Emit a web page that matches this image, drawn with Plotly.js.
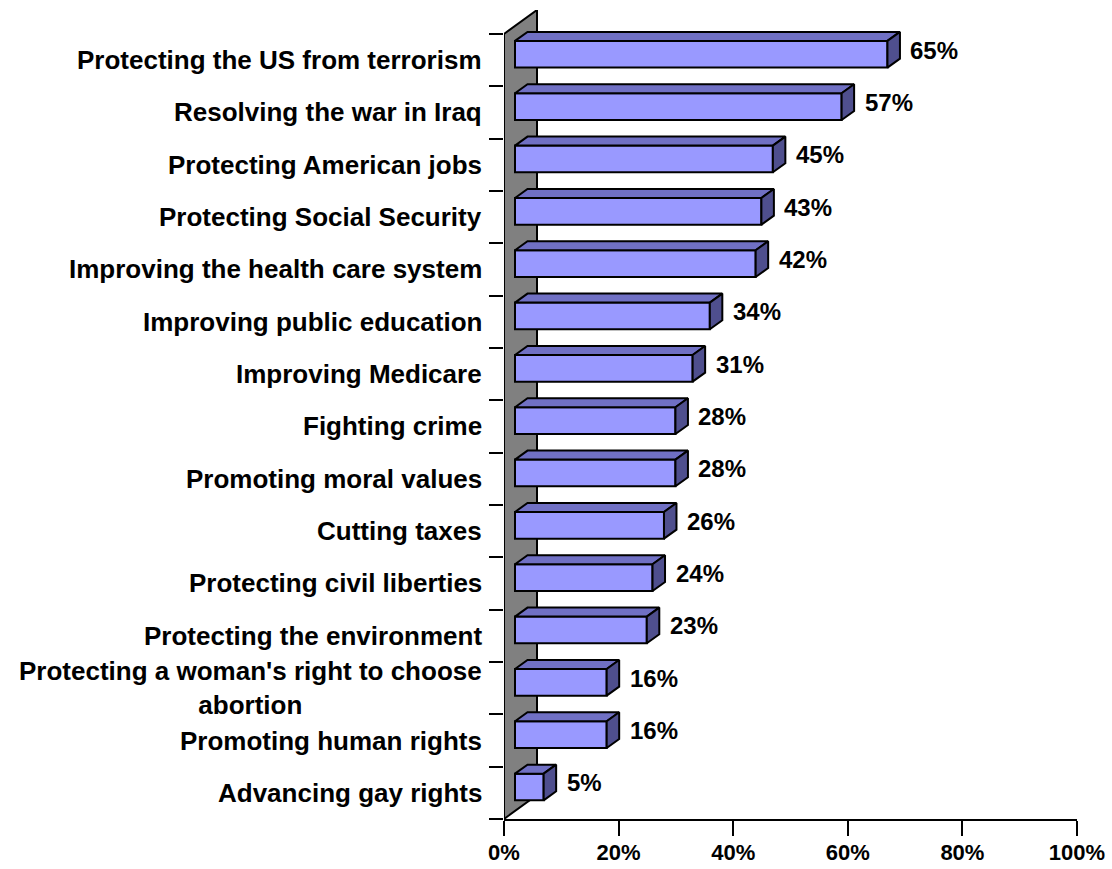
<!DOCTYPE html>
<html><head><meta charset="utf-8">
<script src="https://cdn.plot.ly/plotly-3.0.1.min.js"></script>
<style>body{margin:0;background:#fff}</style>
</head><body>
<div id="chart" style="width:1112px;height:869px"></div>
<script>
const categories = [
  "Protecting the US from terrorism",
  "Resolving the war in Iraq",
  "Protecting American jobs",
  "Protecting Social Security",
  "Improving the health care system",
  "Improving public education",
  "Improving Medicare",
  "Fighting crime",
  "Promoting moral values",
  "Cutting taxes",
  "Protecting civil liberties",
  "Protecting the environment",
  "Protecting a woman's right to choose<br>abortion",
  "Promoting human rights",
  "Advancing gay rights"
];
const values = [65, 57, 45, 43, 42, 34, 31, 28, 28, 26, 24, 23, 16, 16, 5];
const valueLabels = values.map(v => v + "%");
const xTickVals = [0, 20, 40, 60, 80, 100];
const xTickText = ["0%", "20%", "40%", "60%", "80%", "100%"];

// layout geometry
const W = 1112, H = 869;
const M = {l: 504, r: 35, t: 10, b: 50};
const pxX = (W - M.l - M.r) / 100;          // px per percent
const yMin = -0.5, yMax = categories.length - 0.5;
const wallDyUnits = 24 / 52.4;
const yTop = yMin - wallDyUnits;
const pxY = (H - M.t - M.b) / (yMax - yTop); // px per category unit

// 3D depth (converted to data units)
const frontDx = 11 / pxX;
const depthDx = 12.5 / pxX, depthDy = 9 / pxY;
const wallDx = 33 / pxX, wallDy = 24 / pxY;
const faceTop = -0.367, faceBot = 0.143;

const cats = categories.map((c, i) => i);

const front = {
  type: "bar", orientation: "h",
  y: cats.map(i => i + (faceTop + faceBot) / 2),
  x: values, base: values.map(() => frontDx),
  width: faceBot - faceTop,
  marker: {color: "#9999FF", line: {color: "#000", width: 2}},
  hoverinfo: "skip"
};

const topX = [], topY = [], sideX = [], sideY = [];
values.forEach((v, i) => {
  const yt = i + faceTop, yb = i + faceBot;
  const x0 = frontDx, x1 = frontDx + v;
  topX.push(x0, x1, x1 + depthDx, x0 + depthDx, x0, null);
  topY.push(yt, yt, yt - depthDy, yt - depthDy, yt, null);
  sideX.push(x1, x1 + depthDx, x1 + depthDx, x1, x1, null);
  sideY.push(yt, yt - depthDy, yb - depthDy, yb, yt, null);
});
const tops = {type: "scatter", mode: "lines", x: topX, y: topY, fill: "toself",
  fillcolor: "#7070C4", line: {color: "#000", width: 2}, hoverinfo: "skip", connectgaps: false};
const sides = {type: "scatter", mode: "lines", x: sideX, y: sideY, fill: "toself",
  fillcolor: "#4F4F8E", line: {color: "#000", width: 2}, hoverinfo: "skip", connectgaps: false};

const wallPath = `M 0,${yMax} L 0,${yMin} L ${wallDx},${yMin - wallDy} L ${wallDx},${yMax - wallDy} Z`;

const annotations = [];
categories.forEach((c, i) => {
  annotations.push({xref: "paper", yref: "y", x: 0, y: i, xanchor: "right", yanchor: "middle",
    xshift: -20, align: "center", showarrow: false, text: c,
    font: {family: "Liberation Sans, Arial, sans-serif", size: 26, weight: "bold", color: "#000"}});
});
values.forEach((v, i) => {
  annotations.push({xref: "x", yref: "y", x: frontDx + v, y: i, xanchor: "left", yanchor: "middle",
    xshift: 21, yshift: 10, showarrow: false, text: valueLabels[i],
    font: {family: "Liberation Sans, Arial, sans-serif", size: 24, weight: "bold", color: "#000"}});
});

const layout = {
  width: W, height: H, margin: M, showlegend: false,
  paper_bgcolor: "#fff", plot_bgcolor: "#fff",
  xaxis: {range: [0, 100], tickvals: xTickVals, ticktext: xTickText, ticks: "outside",
    ticklen: 15, tickwidth: 2, tickcolor: "#000", showline: true, linecolor: "#000", linewidth: 2,
    showgrid: false, zeroline: false, fixedrange: true, ticklabelstandoff: -2,
    tickfont: {family: "Liberation Sans, Arial, sans-serif", size: 22, weight: "bold", color: "#000"}},
  yaxis: {range: [yMax, yTop], tickvals: cats.map(i => i - 0.5).concat([yMax]), ticks: "outside",
    ticklen: 14, tickwidth: 2, tickcolor: "#000", showticklabels: false, showline: false,
    showgrid: false, zeroline: false, fixedrange: true},
  shapes: [{type: "path", xref: "x", yref: "y", path: wallPath, fillcolor: "#808080",
    line: {color: "#000", width: 2}, layer: "below"}],
  annotations: annotations
};

Plotly.newPlot("chart", [front, tops, sides], layout, {displayModeBar: false, staticPlot: true});
</script>
</body></html>
